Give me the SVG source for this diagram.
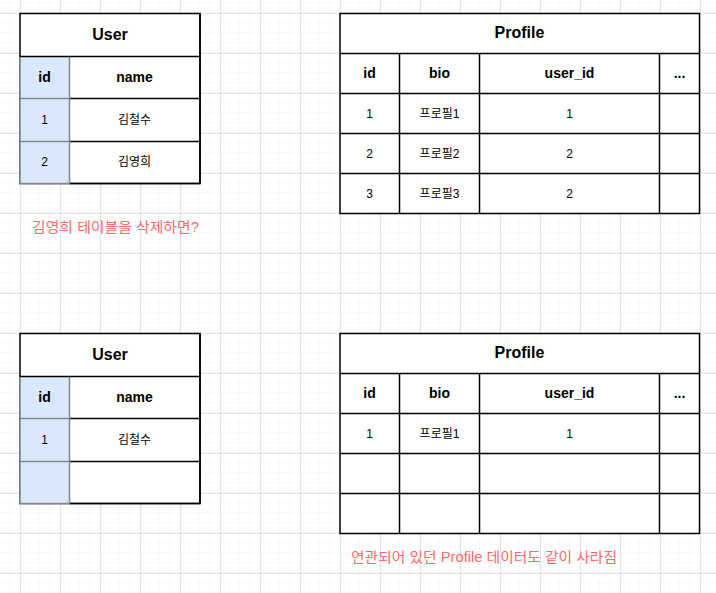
<svg xmlns="http://www.w3.org/2000/svg" width="716" height="593" viewBox="0 0 716 593">
<defs>
<pattern id="minor" width="10" height="10" patternUnits="userSpaceOnUse" x="0" y="3">
<path d="M10 0 V10 M0 10 H10" fill="none" stroke="#f3f3f3" stroke-width="1"/>
</pattern>
<pattern id="major" width="40" height="40" patternUnits="userSpaceOnUse" x="20" y="13">
<path d="M0.5 0 V40 M0 0.5 H40" fill="none" stroke="#e3e3e3" stroke-width="1"/>
</pattern>
<style>
.t{font-family:"Liberation Sans","Noto Sans CJK KR",Arial,sans-serif;text-anchor:middle;fill:#000}
.title{font-size:16px;font-weight:bold}
.hdr{font-size:14px;font-weight:bold}
.cell{font-size:12px}
.note{font-family:"Liberation Sans","Noto Sans CJK KR",Arial,sans-serif;font-size:14px;fill:#ff6b6b}
.ln{stroke:#000;stroke-width:1.5;fill:none}
.gl{stroke:#7f8896;stroke-width:1.5;fill:none}
.idcol{fill:#dae8fc}
.box{fill:#fff;stroke:#000;stroke-width:1.5}
</style>
</defs>
<rect width="716" height="593" fill="#fff"/>
<rect width="716" height="593" fill="url(#minor)"/>
<rect width="716" height="593" fill="url(#major)"/>

<g id="user-before">
<rect class="box" x="20" y="13.5" width="180" height="170"/>
<rect class="idcol" x="20" y="56.5" width="49.5" height="127"/>
<path class="ln" d="M69.5 98.5 H200 M69.5 141.5 H200 M69.5 183.5 H200 M200 13.5 V183.5"/>
<path class="gl" d="M20 56.5 V183.5 H69.5 V56.5 M20 98.5 H69.5 M20 141.5 H69.5"/>
<path class="ln" d="M20 56.5 H200"/>
<text class="t title" x="110" y="40">User</text>
<text class="t hdr" x="44.5" y="82">id</text>
<text class="t hdr" x="134.5" y="82">name</text>
<text class="t cell" x="44.5" y="124">1</text>
<text class="t cell" x="134.5" y="124">김철수</text>
<text class="t cell" x="44.5" y="166">2</text>
<text class="t cell" x="134.5" y="166">김영희</text>
</g>

<g id="profile-before">
<rect class="box" x="340" y="13.5" width="359.5" height="200"/>
<path class="ln" d="M340 53.5 H699.5 M340 93.5 H699.5 M340 133.5 H699.5 M340 173.5 H699.5 M399.5 53.5 V213.5 M479.5 53.5 V213.5 M659.5 53.5 V213.5"/>
<text class="t title" x="519.5" y="38">Profile</text>
<text class="t hdr" x="369.5" y="78">id</text>
<text class="t hdr" x="439.5" y="78">bio</text>
<text class="t hdr" x="569.5" y="78">user_id</text>
<text class="t hdr" x="679.5" y="78">...</text>
<text class="t cell" x="369.5" y="117.5">1</text>
<text class="t cell" x="439.5" y="117.5">프로필1</text>
<text class="t cell" x="569.5" y="117.5">1</text>
<text class="t cell" x="369.5" y="157.5">2</text>
<text class="t cell" x="439.5" y="157.5">프로필2</text>
<text class="t cell" x="569.5" y="157.5">2</text>
<text class="t cell" x="369.5" y="197.5">3</text>
<text class="t cell" x="439.5" y="197.5">프로필3</text>
<text class="t cell" x="569.5" y="197.5">2</text>
</g>

<g id="note-before">
<text class="note" x="32" y="232" textLength="167" lengthAdjust="spacingAndGlyphs">김영희 테이블을 삭제하면?</text>
</g>

<g id="user-after">
<rect class="box" x="20" y="333.5" width="180" height="170"/>
<rect class="idcol" x="20" y="376.5" width="49.5" height="127"/>
<path class="ln" d="M69.5 418.5 H200 M69.5 461.5 H200 M69.5 503.5 H200 M200 333.5 V503.5"/>
<path class="gl" d="M20 376.5 V503.5 H69.5 V376.5 M20 418.5 H69.5 M20 461.5 H69.5"/>
<path class="ln" d="M20 376.5 H200"/>
<text class="t title" x="110" y="360">User</text>
<text class="t hdr" x="44.5" y="402">id</text>
<text class="t hdr" x="134.5" y="402">name</text>
<text class="t cell" x="44.5" y="444">1</text>
<text class="t cell" x="134.5" y="444">김철수</text>
</g>

<g id="profile-after">
<rect class="box" x="340" y="333.5" width="359.5" height="200"/>
<path class="ln" d="M340 373.5 H699.5 M340 413.5 H699.5 M340 453.5 H699.5 M340 493.5 H699.5 M399.5 373.5 V533.5 M479.5 373.5 V533.5 M659.5 373.5 V533.5"/>
<text class="t title" x="519.5" y="358">Profile</text>
<text class="t hdr" x="369.5" y="398">id</text>
<text class="t hdr" x="439.5" y="398">bio</text>
<text class="t hdr" x="569.5" y="398">user_id</text>
<text class="t hdr" x="679.5" y="398">...</text>
<text class="t cell" x="369.5" y="437.5">1</text>
<text class="t cell" x="439.5" y="437.5">프로필1</text>
<text class="t cell" x="569.5" y="437.5">1</text>
</g>

<g id="note-after">
<text class="note" x="351" y="562" textLength="266" lengthAdjust="spacingAndGlyphs">연관되어 있던 Profile 데이터도 같이 사라짐</text>
</g>

<g id="connectors"></g>
</svg>
